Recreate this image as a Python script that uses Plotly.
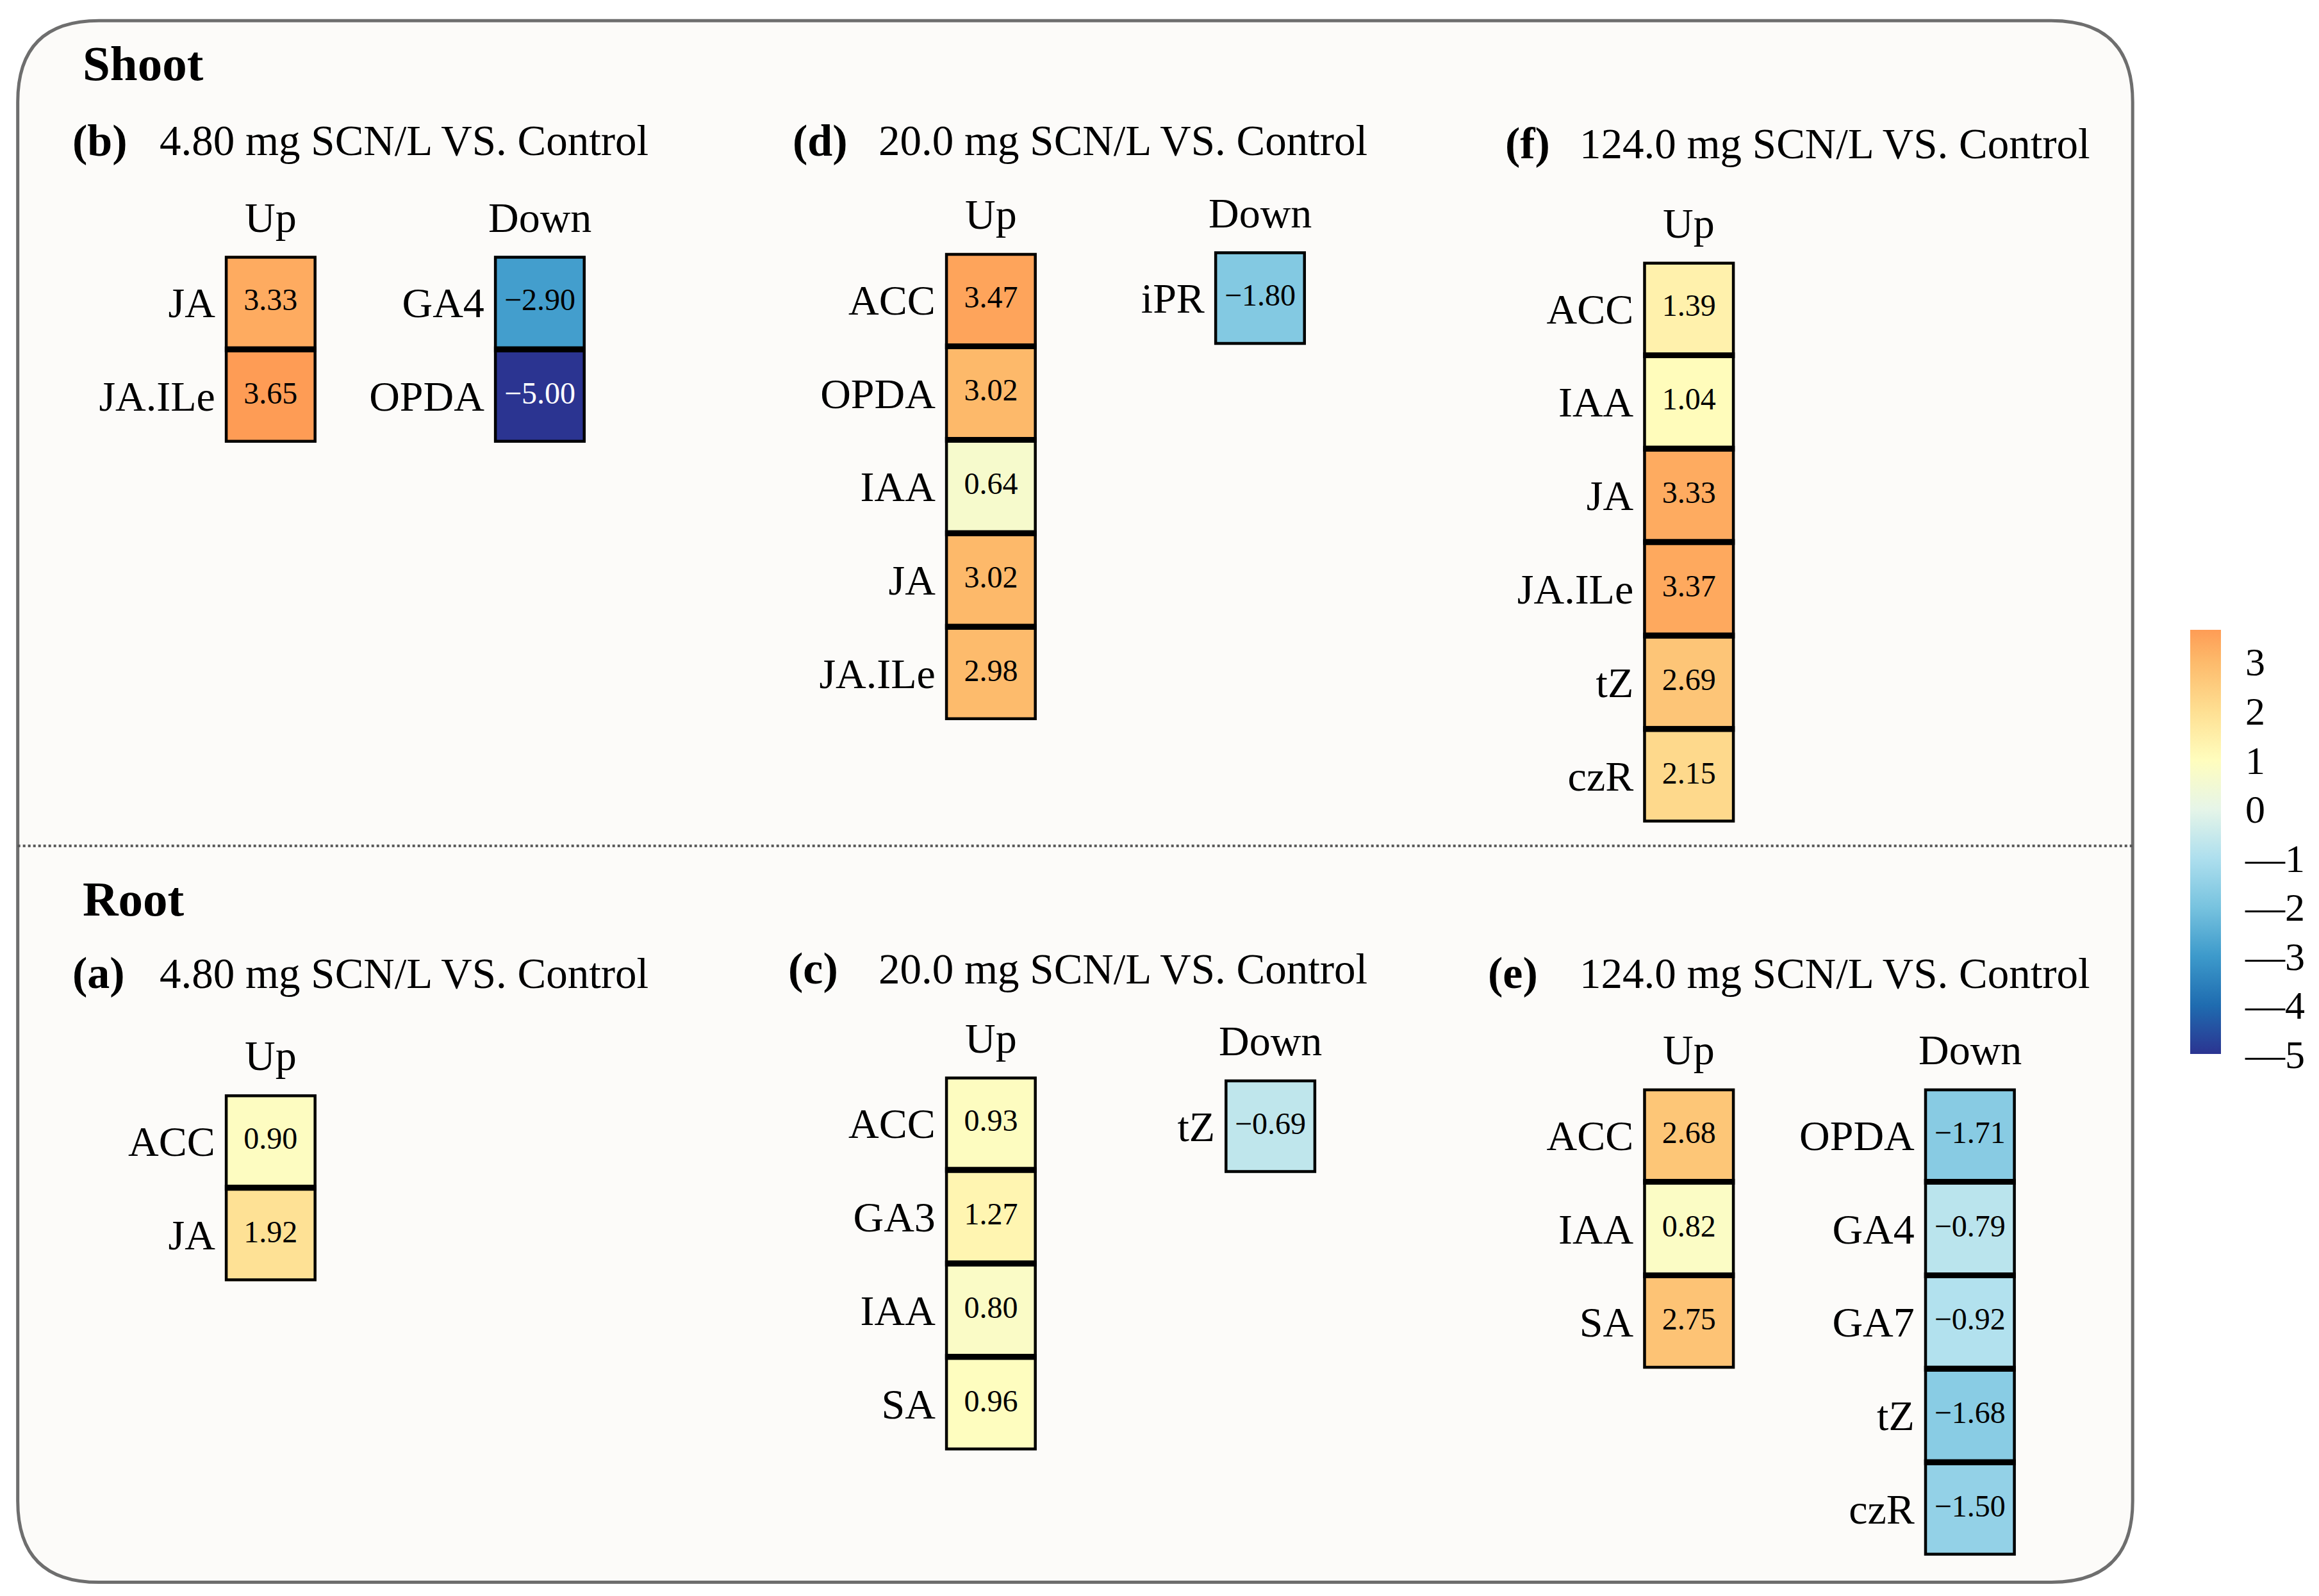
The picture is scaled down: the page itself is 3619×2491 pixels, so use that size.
import plotly.graph_objects as go

# hormone fold changes (log2) per comparison
b_up_names = ["JA", "JA.ILe"]
b_up_vals = [3.33, 3.65]
b_down_names = ["GA4", "OPDA"]
b_down_vals = [-2.90, -5.00]
d_up_names = ["ACC", "OPDA", "IAA", "JA", "JA.ILe"]
d_up_vals = [3.47, 3.02, 0.64, 3.02, 2.98]
d_down_names = ["iPR"]
d_down_vals = [-1.80]
f_up_names = ["ACC", "IAA", "JA", "JA.ILe", "tZ", "czR"]
f_up_vals = [1.39, 1.04, 3.33, 3.37, 2.69, 2.15]
a_up_names = ["ACC", "JA"]
a_up_vals = [0.90, 1.92]
c_up_names = ["ACC", "GA3", "IAA", "SA"]
c_up_vals = [0.93, 1.27, 0.80, 0.96]
c_down_names = ["tZ"]
c_down_vals = [-0.69]
e_up_names = ["ACC", "IAA", "SA"]
e_up_vals = [2.68, 0.82, 2.75]
e_down_names = ["OPDA", "GA4", "GA7", "tZ", "czR"]
e_down_vals = [-1.71, -0.79, -0.92, -1.68, -1.50]

cb_ticks = [3, 2, 1, 0, -1, -2, -3, -4, -5]

# layout is measured on a 1568 x 1080 copy of the figure, then scaled up
W, H = 3619, 2491
OFF = 8  # page body margin
Wf, Hf = W - OFF, H - OFF
W0 = 1568
S = W / W0
FONT = "Liberation Serif"
CW, CH = 62, 63.2  # cell size

# (names, values, header, left, top)
columns = [
    (b_up_names, b_up_vals, "Up", 152, 173),
    (b_down_names, b_down_vals, "Down", 334, 173),
    (d_up_names, d_up_vals, "Up", 639, 171),
    (d_down_names, d_down_vals, "Down", 821, 170),
    (f_up_names, f_up_vals, "Up", 1111, 177),
    (a_up_names, a_up_vals, "Up", 152, 740),
    (c_up_names, c_up_vals, "Up", 639, 728),
    (c_down_names, c_down_vals, "Down", 828, 730),
    (e_up_names, e_up_vals, "Up", 1111, 736),
    (e_down_names, e_down_vals, "Down", 1301, 736),
]

# (letter, title, letter x, text x, y)
titles = [
    ("(b)", "4.80 mg SCN/L VS. Control", 48, 107, 95),
    ("(d)", "20.0 mg SCN/L VS. Control", 535, 593, 95),
    ("(f)", "124.0 mg SCN/L VS. Control", 1017, 1067, 97),
    ("(a)", "4.80 mg SCN/L VS. Control", 48, 107, 658),
    ("(c)", "20.0 mg SCN/L VS. Control", 532, 593, 655),
    ("(e)", "124.0 mg SCN/L VS. Control", 1005, 1067, 658),
]

all_vals = [v for c in columns for v in c[1]]
zmin, zmax = min(all_vals), max(all_vals)

stops = [
    (-5.0, "#2B3491"), (-4.0, "#1F6CB0"), (-3.0, "#3D9ACB"), (-2.0, "#78C3DF"),
    (-1.0, "#AEDFEE"), (0.0, "#E6F5E8"), (1.0, "#FFFDBD"), (2.0, "#FEDF92"),
    (3.0, "#FDBA6B"), (3.65, "#FE9C55"),
]
cscale = [[(v - zmin) / (zmax - zmin), c] for v, c in stops]


def fmt(v):
    return "\u2212%.2f" % -v if v < 0 else "%.2f" % v


def px(x):
    return (x * S - OFF) / Wf


def py(y):
    return 1 - (y * S - OFF) / Hf


fig = go.Figure()
shapes = []
annotations = []

for k, (names, vals, header, left, top) in enumerate(columns, start=1):
    n = len(names)
    sfx = "" if k == 1 else str(k)
    xa, ya = "x" + sfx, "y" + sfx
    fig.add_trace(go.Heatmap(
        x=[0], y=names, z=[[v] for v in vals],
        zmin=zmin, zmax=zmax, colorscale=cscale,
        showscale=(k == 1), xaxis=xa, yaxis=ya, hoverinfo="skip",
        colorbar=dict(
            x=(3418 - OFF) / Wf, xanchor="left", xpad=0,
            y=1 - (1314 - OFF) / Hf, yanchor="middle", ypad=0,
            len=662 / Hf, lenmode="fraction", thickness=48, thicknessmode="pixels",
            outlinewidth=0, tickvals=cb_ticks,
            ticktext=[str(t) if t >= 0 else "\u2014" + str(-t) for t in cb_ticks],
            ticks="outside", ticklen=26, tickwidth=2, tickcolor="rgba(0,0,0,0)",
            tickfont=dict(family=FONT, size=62, color="black"),
        ),
    ))
    fig.add_trace(go.Scatter(
        x=[0] * n, y=names, mode="text", text=[fmt(v) for v in vals],
        textfont=dict(family=FONT, size=48,
                      color=["white" if v < -4 else "black" for v in vals]),
        xaxis=xa, yaxis=ya, hoverinfo="skip", showlegend=False,
    ))
    fig.layout["xaxis" + sfx] = dict(
        domain=[px(left), px(left + CW)], range=[-0.5, 0.5], visible=False,
        anchor=ya, fixedrange=True,
    )
    fig.layout["yaxis" + sfx] = dict(
        domain=[py(top + n * CH), py(top)], range=[n - 0.5, -0.5],
        type="category", categoryarray=names, anchor=xa,
        showgrid=False, zeroline=False, showline=False, ticks="",
        ticklabelstandoff=14,
        tickfont=dict(family=FONT, size=66, color="black"),
    )
    for i in range(n):
        shapes.append(dict(
            type="rect", xref=xa, yref=ya, x0=-0.5, x1=0.5, y0=i - 0.5, y1=i + 0.5,
            line=dict(color="black", width=9), layer="above",
        ))
    annotations.append(dict(
        text=header, xref=xa + " domain", yref=ya + " domain", x=0.5, y=1,
        xanchor="center", yanchor="middle", yshift=26 * S, showarrow=False,
        font=dict(family=FONT, size=66, color="black"),
    ))

for letter, title, lx, tx, ty in titles:
    annotations.append(dict(
        text="<b>%s</b>" % letter, xref="paper", yref="paper", x=px(lx), y=py(ty),
        xanchor="left", yanchor="middle", showarrow=False,
        font=dict(family=FONT, size=70, color="black"),
    ))
    annotations.append(dict(
        text=title, xref="paper", yref="paper", x=px(tx), y=py(ty),
        xanchor="left", yanchor="middle", showarrow=False,
        font=dict(family=FONT, size=67, color="black"),
    ))

for label, y in [("Shoot", 43), ("Root", 608)]:
    annotations.append(dict(
        text="<b>%s</b>" % label, xref="paper", yref="paper", x=px(55), y=py(y),
        xanchor="left", yanchor="middle", showarrow=False,
        font=dict(family=FONT, size=77, color="black"),
    ))

# rounded frame and dotted divider
L, R, T, B = px(12), px(1442), py(14), py(1070)
rx, ry = 55 * S / Wf, 55 * S / Hf
path = (
    f"M {L + rx},{T} L {R - rx},{T} Q {R},{T} {R},{T - ry} "
    f"L {R},{B + ry} Q {R},{B} {R - rx},{B} L {L + rx},{B} "
    f"Q {L},{B} {L},{B + ry} L {L},{T - ry} Q {L},{T} {L + rx},{T} Z"
)
shapes.insert(0, dict(type="path", xref="paper", yref="paper", path=path,
                      fillcolor="#FCFBF9", line=dict(color="#6e6e6e", width=5),
                      layer="below"))
shapes.append(dict(type="line", xref="paper", yref="paper", x0=L, x1=R,
                   y0=py(572), y1=py(572),
                   line=dict(color="#555555", width=4, dash="dot")))

fig.update_layout(
    width=Wf, height=Hf, margin=dict(l=0, r=0, t=0, b=0),
    paper_bgcolor="white", plot_bgcolor="rgba(0,0,0,0)",
    showlegend=False, shapes=shapes, annotations=annotations,
    font=dict(family=FONT, color="black"),
)

fig.write_html("out.html")
